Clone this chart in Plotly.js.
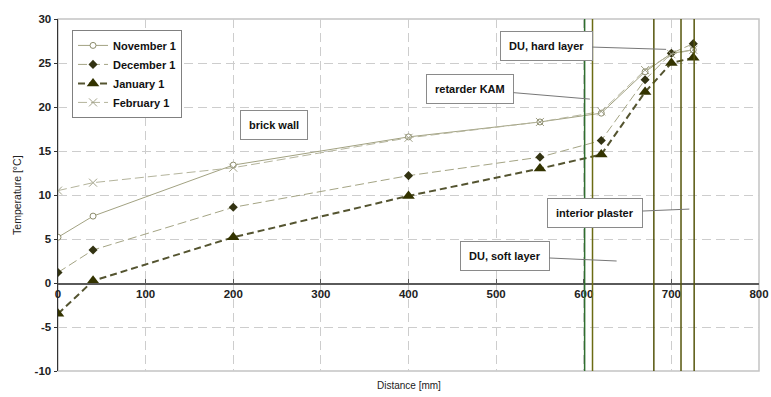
<!DOCTYPE html>
<html>
<head>
<meta charset="utf-8">
<script src="https://cdn.plot.ly/plotly-3.0.1.min.js"></script>
<style>html,body{margin:0;padding:0;background:#fff;}#chart{width:771px;height:397px;}</style>
</head>
<body>
<div id="chart"></div>
<script>
// ---- data ----
var distance = [0, 40, 200, 400, 550, 620, 670, 700, 725];
var november1 = [5.2, 7.6, 13.4, 16.6, 18.3, 19.3, 24.0, 26.1, 26.5];
var december1 = [1.2, 3.75, 8.6, 12.2, 14.3, 16.2, 23.1, 26.1, 27.2];
var january1 = [-3.5, 0.25, 5.2, 9.9, 13.0, 14.6, 21.7, 25.0, 25.6];
var february1 = [10.5, 11.4, 13.1, 16.5, 18.3, 19.5, 24.2, 26.0, 26.5];
var seriesNames = ["November 1", "December 1", "January 1", "February 1"];
var layerBoundaries = [601, 610, 680, 711, 726];
var boundaryColors = ["#2f6e2f", "#6b6b14", "#55550c", "#55550c", "#55550c"];
var xTicks = [0, 100, 200, 300, 400, 500, 600, 700, 800];
var yTicks = [-10, -5, 0, 5, 10, 15, 20, 25, 30];
var labels = ["brick wall", "retarder KAM", "DU, hard layer", "interior plaster", "DU, soft layer"];

var traces = [
  {x: distance, y: november1, name: seriesNames[0], mode: "lines+markers",
   line: {color: "#a2a282", width: 1},
   marker: {symbol: "circle", size: 6, color: "#ffffff", line: {color: "#8c8c6c", width: 1}}},
  {x: distance, y: december1, name: seriesNames[1], mode: "lines+markers",
   line: {color: "#a4a484", width: 1, dash: "9px,4px"},
   marker: {symbol: "diamond", size: 7, color: "#333312"}},
  {x: distance, y: january1, name: seriesNames[2], mode: "lines+markers",
   line: {color: "#545430", width: 2, dash: "7px,4px"},
   marker: {symbol: "triangle-up", size: 11, color: "#333300"}},
  {x: distance, y: february1, name: seriesNames[3], mode: "lines+markers",
   line: {color: "#b4b49c", width: 1, dash: "9px,4px"},
   marker: {symbol: "x-thin-open", size: 8, color: "#a2a28a", line: {color: "#a2a28a", width: 1}}}
];

var shapes = [{type: "rect", xref: "paper", yref: "paper", x0: 0, x1: 1, y0: 0, y1: 1,
  line: {color: "#c4c4c4", width: 1.5}, layer: "below"}];
layerBoundaries.forEach(function (b, i) {
  shapes.push({type: "line", xref: "x", yref: "paper", x0: b, x1: b, y0: 0, y1: 1,
    line: {color: boundaryColors[i], width: 1.5}});
});

var boxStyle = {bgcolor: "#ffffff", bordercolor: "#8a8a8a", borderwidth: 1, borderpad: 8,
  font: {family: "Liberation Sans, Arial, sans-serif", size: 11, color: "#111", weight: "bold"}};
function ann(text, x, y, extra) {
  var a = Object.assign({text: text, xref: "x", yref: "y", x: x, y: y, showarrow: false}, boxStyle);
  return Object.assign(a, extra || {});
}
var annotations = [
  ann(labels[0], 247, 17.95),
  ann(labels[1], 607, 20.9, {showarrow: true, arrowhead: 0, arrowwidth: 1, arrowcolor: "#777", axref: "x", ayref: "y", ax: 470, ay: 22.05}),
  ann(labels[2], 694, 26.55, {showarrow: true, arrowhead: 0, arrowwidth: 1, arrowcolor: "#777", axref: "x", ayref: "y", ax: 557, ay: 26.97}),
  ann(labels[3], 720.5, 8.4, {showarrow: true, arrowhead: 0, arrowwidth: 1, arrowcolor: "#777", axref: "x", ayref: "y", ax: 612.5, ay: 7.95}),
  ann(labels[4], 637.5, 2.5, {showarrow: true, arrowhead: 0, arrowwidth: 1, arrowcolor: "#777", axref: "x", ayref: "y", ax: 509.7, ay: 3.07}),
  {text: "Distance [mm]", xref: "paper", yref: "paper", x: 0.5, y: -0.04, yanchor: "middle", showarrow: false,
   font: {family: "Liberation Sans, Arial, sans-serif", size: 10, color: "#222"}},
  {text: "Temperature [°C]", xref: "paper", yref: "paper", x: -0.07, y: 0.5, textangle: -90, showarrow: false,
   font: {family: "Liberation Sans, Arial, sans-serif", size: 10.5, color: "#222"}}
];

var tickFont = {family: "Liberation Sans, Arial, sans-serif", size: 11.5, color: "#222", weight: "bold"};
var layout = {
  width: 771, height: 397,
  margin: {l: 58, r: 12, t: 19, b: 26},
  paper_bgcolor: "#ffffff", plot_bgcolor: "#ffffff",
  showlegend: true,
  legend: {x: 0.02, y: 0.969, xanchor: "left", yanchor: "top", bgcolor: "#ffffff",
    bordercolor: "#808080", borderwidth: 1, tracegroupgap: 0, itemwidth: 30,
    font: {family: "Liberation Sans, Arial, sans-serif", size: 11, color: "#111", weight: "bold"}},
  xaxis: {range: [0, 800], tickvals: xTicks, ticktext: xTicks.map(String), anchor: "free", position: 0.25,
    showline: true, linecolor: "#5a5a5a", linewidth: 1.5, ticks: "inside", ticklen: 4, tickcolor: "#5a5a5a",
    showgrid: true, gridcolor: "#cdcdcd", griddash: "9px,5px", gridwidth: 1, zeroline: false,
    ticklabeloverflow: "allow", tickfont: tickFont},
  yaxis: {range: [-10, 30], tickvals: yTicks, ticktext: yTicks.map(String),
    showline: true, linecolor: "#333", linewidth: 1.5, ticks: "outside", ticklen: 3, tickcolor: "#333",
    showgrid: true, gridcolor: "#cdcdcd", griddash: "9px,5px", gridwidth: 1, zeroline: false,
    tickfont: tickFont},
  shapes: shapes,
  annotations: annotations
};
Plotly.newPlot("chart", traces, layout, {displayModeBar: false, staticPlot: true});
</script>
</body>
</html>
